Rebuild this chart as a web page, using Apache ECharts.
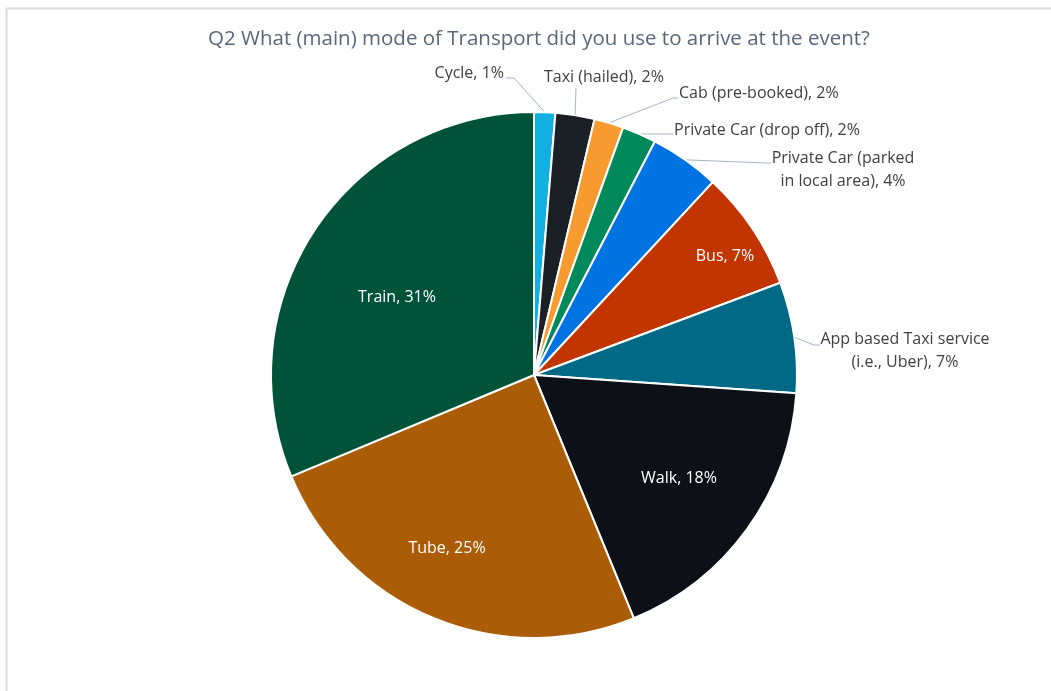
<!DOCTYPE html>
<html>
<head>
<meta charset="utf-8">
<title>Mode of Transport</title>
<script src="https://cdn.jsdelivr.net/npm/echarts@6/dist/echarts.min.js"></script>
<style>
  html, body { margin: 0; padding: 0; background: #ffffff; }
  #chart { width: 1051px; height: 691px; }
</style>
</head>
<body>
<div id="chart"></div>
<script>
// Survey answers: share of respondents (%) per main mode of transport
const modes = [
  'Cycle',
  'Taxi (hailed)',
  'Cab (pre-booked)',
  'Private Car (drop off)',
  'Private Car (parked\nin local area)',
  'Bus',
  'App based Taxi service\n(i.e., Uber)',
  'Walk',
  'Tube',
  'Train'
];
const shares = [1.3, 2.4, 1.8, 2.1, 4.3, 7.4, 6.8, 17.7, 24.9, 31.3];
const sliceColors = [
  '#12b0e0', '#1b1f26', '#f79a30', '#00895a', '#0073e2',
  '#c23400', '#006a86', '#0d1016', '#ab5c06', '#005338'
];
const insideModes = ['Bus', 'Walk', 'Tube', 'Train'];

// Where each label sits, and where its leader line turns
const labelSpots = {
  'Cycle':              { x: 504, y: 73,  align: 'right',  bend: [[514, 78], [506, 78]] },
  'Taxi (hailed)':      { x: 604, y: 77,  align: 'center', bend: [[576, 88]] },
  'Cab (pre-booked)':   { x: 679, y: 93,  align: 'left',   bend: [[673, 98], [678, 98]] },
  'Private Car (drop off)': { x: 674, y: 130, align: 'left', bend: [[667, 134], [673, 134]] },
  'Private Car (parked\nin local area)': { x: 843, y: 170, align: 'center', bend: [[766, 163], [771, 163]] },
  'App based Taxi service\n(i.e., Uber)': { x: 905, y: 351, align: 'center', bend: [[814, 345], [820, 345]] },
  'Bus':   { x: 725, y: 256, align: 'center' },
  'Walk':  { x: 679, y: 478, align: 'center' },
  'Tube':  { x: 447, y: 548, align: 'center' },
  'Train': { x: 397, y: 297, align: 'center' }
};

const FONT = "'Open Sans', 'Liberation Sans', sans-serif";

const pieData = modes.map((name, i) => {
  const inside = insideModes.indexOf(name) >= 0;
  return {
    name: name,
    value: shares[i],
    itemStyle: { color: sliceColors[i] },
    label: {
      position: inside ? 'inside' : 'outside',
      color: inside ? '#ffffff' : '#404040'
    },
    labelLine: { show: !inside }
  };
});

const chart = echarts.init(document.getElementById('chart'), null, { renderer: 'canvas' });

chart.setOption({
  backgroundColor: '#ffffff',
  animation: false,
  title: {
    text: 'Q2 What (main) mode of Transport did you use to arrive at the event?',
    left: 203,
    top: 24,
    textStyle: {
      fontFamily: FONT,
      fontSize: 20.5,
      fontWeight: 'normal',
      color: '#5a677a'
    }
  },
  graphic: [{
    type: 'rect',
    silent: true,
    shape: { x: 6.5, y: 8.5, width: 1200, height: 800 },
    style: { fill: 'none', stroke: '#d8dde2', lineWidth: 2 }
  }],
  series: [{
    type: 'pie',
    center: [534, 375],
    radius: 263,
    startAngle: 90,
    clockwise: true,
    avoidLabelOverlap: false,
    itemStyle: { borderColor: '#ffffff', borderWidth: 2 },
    label: {
      show: true,
      fontFamily: FONT,
      fontSize: 16,
      lineHeight: 23,
      formatter: p => p.name + ', ' + Math.round(p.value) + '%'
    },
    labelLine: {
      show: true,
      length: 10,
      length2: 10,
      smooth: false,
      lineStyle: { color: '#a6b4c3', width: 1 }
    },
    labelLayout: function (params) {
      const name = modes[params.dataIndex];
      const spot = labelSpots[name];
      const out = {
        x: spot.x,
        y: spot.y,
        align: spot.align,
        verticalAlign: 'middle'
      };
      if (spot.bend && params.labelLinePoints) {
        out.labelLinePoints = [params.labelLinePoints[0]].concat(spot.bend);
      }
      return out;
    },
    data: pieData
  }]
});
</script>
</body>
</html>
